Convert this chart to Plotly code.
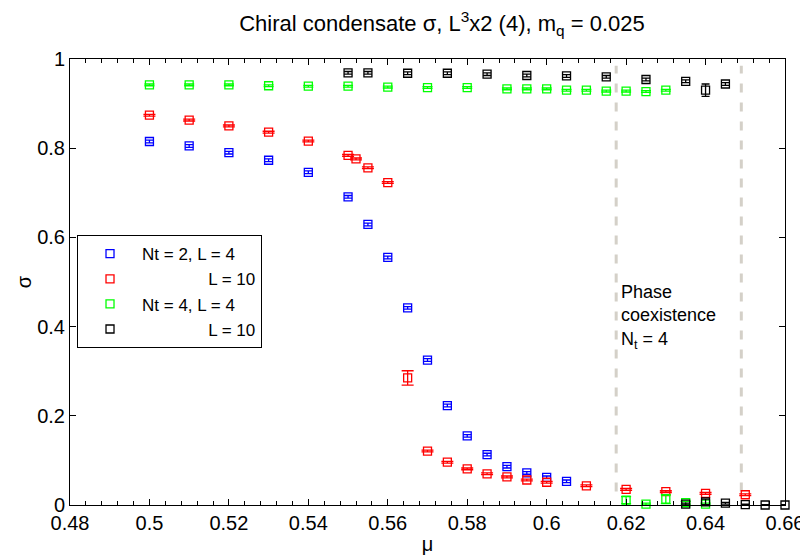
import plotly.graph_objects as go

# ---------------- data ----------------
blue_mu = [0.50, 0.51, 0.52, 0.53, 0.54, 0.55, 0.555, 0.56, 0.565, 0.57, 0.575, 0.58, 0.585, 0.59, 0.595, 0.60, 0.605]
blue_sigma = [0.815, 0.805, 0.790, 0.773, 0.746, 0.691, 0.629, 0.555, 0.442, 0.325, 0.223, 0.155, 0.113, 0.086, 0.072, 0.062, 0.053]
blue_err = [0.003] * len(blue_mu)

red_mu = [0.50, 0.51, 0.52, 0.53, 0.54, 0.55, 0.552, 0.555, 0.56, 0.565, 0.57, 0.575, 0.58, 0.585,
          0.59, 0.595, 0.60, 0.61, 0.62, 0.63, 0.64, 0.65]
red_sigma = [0.874, 0.863, 0.850, 0.836, 0.816, 0.784, 0.776, 0.756, 0.723, 0.285, 0.121, 0.096, 0.081, 0.070,
             0.063, 0.056, 0.051, 0.043, 0.035, 0.030, 0.026, 0.023]
red_err = [0.002, 0.002, 0.002, 0.002, 0.002, 0.002, 0.002, 0.002, 0.002, 0.016, 0.002, 0.002, 0.002, 0.002,
           0.002, 0.002, 0.002, 0.002, 0.002, 0.002, 0.002, 0.002]

green_mu = [0.50, 0.51, 0.52, 0.53, 0.54, 0.55, 0.56, 0.57, 0.58, 0.59, 0.595, 0.60, 0.605, 0.61, 0.615,
            0.62, 0.625, 0.63, 0.62, 0.625, 0.63, 0.635, 0.64]
green_sigma = [0.942, 0.942, 0.942, 0.940, 0.939, 0.939, 0.937, 0.936, 0.936, 0.933, 0.933, 0.933, 0.930,
               0.930, 0.928, 0.928, 0.927, 0.930, 0.011, 0.002, 0.013, 0.005, 0.002]
green_err = [0.002] * 18 + [0.008, 0.002, 0.010, 0.003, 0.002]

black_mu = [0.55, 0.555, 0.565, 0.575, 0.585, 0.595, 0.605, 0.615, 0.625, 0.635, 0.64, 0.645,
            0.635, 0.64, 0.645, 0.65, 0.655, 0.66]
black_sigma = [0.969, 0.969, 0.968, 0.968, 0.966, 0.963, 0.962, 0.960, 0.954, 0.950, 0.930, 0.944,
               0.002, 0.007, 0.004, 0.001, 0.0, 0.0]
black_err = [0.003] * 10 + [0.014, 0.003] + [0.002, 0.006, 0.002, 0.001, 0.001, 0.001]

coexistence_bounds = [0.6175, 0.649]

series_names = ["Nt = 2, L = 4",
                "\u00a0" * 14 + "L = 10",
                "Nt = 4, L = 4",
                "\u00a0" * 14 + "L = 10"]
series_colors = ["#0000ff", "#ff0000", "#00ff00", "#000000"]
series_capwidth = [4, 6, 5, 4]

x_range = [0.48, 0.66]
y_range = [0, 1]

FONT = "Liberation Sans, Arial, Helvetica, sans-serif"

fig = go.Figure()
for mu, sig, err, name, col, cw in [
    (blue_mu, blue_sigma, blue_err, series_names[0], series_colors[0], series_capwidth[0]),
    (red_mu, red_sigma, red_err, series_names[1], series_colors[1], series_capwidth[1]),
    (green_mu, green_sigma, green_err, series_names[2], series_colors[2], series_capwidth[2]),
    (black_mu, black_sigma, black_err, series_names[3], series_colors[3], series_capwidth[3]),
]:
    fig.add_trace(go.Scatter(
        x=mu, y=sig, mode="markers", name=name, cliponaxis=False,
        marker=dict(symbol="square-open", size=8, color=col, line=dict(width=1.3, color=col)),
        error_y=dict(type="data", array=err, visible=True, width=cw, thickness=1.3, color=col),
    ))

for xb in coexistence_bounds:
    fig.add_shape(type="line", xref="x", yref="y", x0=xb, x1=xb, y0=0.03, y1=0.985,
                  line=dict(color="#d4d0c8", width=3, dash="9px,10px"), layer="below")

fig.add_annotation(x=coexistence_bounds[0], y=0.505, xref="x", yref="y", xanchor="left", yanchor="top",
                   xshift=3, align="left", showarrow=False,
                   text="Phase<br>coexistence<br>N<sub>t</sub> = 4",
                   font=dict(family=FONT, size=18, color="black"))

axis_common = dict(showgrid=False, zeroline=False, showline=True, linecolor="black", linewidth=1,
                   mirror="ticks", ticks="inside", tickcolor="black", automargin=False,
                   tickfont=dict(family=FONT, size=20, color="black"))

# page body has an 8px default margin, so the figure is 8px smaller than the window
fig.update_layout(
    width=800, height=547,
    margin=dict(l=62, r=23, t=51, b=50),
    paper_bgcolor="white", plot_bgcolor="white",
    font=dict(family=FONT, color="black"),
    title=dict(text="Chiral condensate σ, L<sup>3</sup>x2 (4), m<sub>q</sub> = 0.025",
               x=0.5425, xref="container", xanchor="center", y=0.972, yref="container", yanchor="middle",
               font=dict(family=FONT, size=22, color="black")),
    xaxis=dict(range=x_range, tick0=0.48, dtick=0.02, ticklen=6,
               minor=dict(ticks="inside", dtick=0.004, ticklen=4, tickcolor="black"),
               ticklabeloverflow="allow",
               title=dict(text="μ", font=dict(family=FONT, size=20), standoff=8),
               **axis_common),
    xaxis2=dict(range=x_range, overlaying="x", side="top", showticklabels=False,
                tick0=0.48, dtick=0.02, ticks="inside", ticklen=6, tickcolor="black",
                minor=dict(ticks="inside", dtick=0.004, ticklen=4, tickcolor="black"),
                showgrid=False, zeroline=False, showline=False, automargin=False),
    yaxis=dict(range=y_range, tick0=0, dtick=0.2, ticklen=6,
               title=dict(text="σ", font=dict(family=FONT, size=20), standoff=0),
               **axis_common),
    legend=dict(x=0.0098, y=0.605, xanchor="left", yanchor="top",
                bgcolor="white", bordercolor="black", borderwidth=1,
                font=dict(family=FONT, size=17, color="black"), itemwidth=54, tracegroupgap=0),
    showlegend=True,
)
# invisible carrier trace so the top axis is drawn
fig.add_trace(go.Scatter(x=x_range, y=y_range, xaxis="x2", mode="markers", marker=dict(opacity=0),
                         showlegend=False, hoverinfo="skip"))

fig.write_html("out.html")
